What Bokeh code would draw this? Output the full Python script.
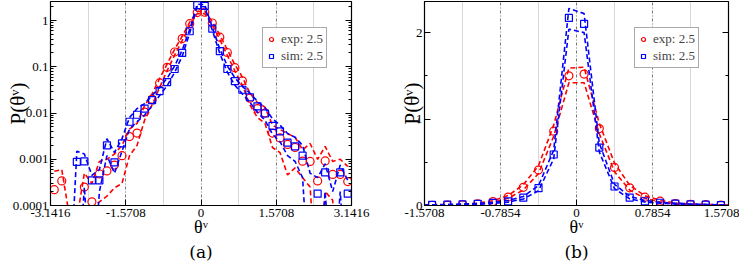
import math
import numpy as np
from bokeh.plotting import figure
from bokeh.layouts import row
from bokeh.models import (FixedTicker, CustomJSTickFormatter, LogAxis, LinearAxis,
                          Legend, LegendItem, Title, Range1d, ColumnDataSource)
from bokeh.embed import file_html
from bokeh.resources import INLINE

nan = float("nan")
PI = math.pi

# bin centres (rad), 40 bins of width pi/20
theta = [-3.0631, -2.9060, -2.7489, -2.5918, -2.4347, -2.2777, -2.1206, -1.9635,
         -1.8064, -1.6493, -1.4923, -1.3352, -1.1781, -1.0210, -0.8639, -0.7069,
         -0.5498, -0.3927, -0.2356, -0.0785, 0.0785, 0.2356, 0.3927, 0.5498,
         0.7069, 0.8639, 1.0210, 1.1781, 1.3352, 1.4923, 1.6493, 1.8064,
         1.9635, 2.1206, 2.2777, 2.4347, 2.5918, 2.7489, 2.9060, 3.0631]

exp_val = [2.2e-4, 3.4e-4, nan, nan, 2.5e-4, 1.2e-4, 4.8e-4, 5.6e-4, 7.5e-4, 1.2e-3,
           3.1e-3, 3.7e-3, 0.0105, 0.020, 0.045, 0.098, 0.21, 0.41, 0.86, 1.50,
           1.52, 0.89, 0.44, 0.205, 0.096, 0.050, 0.021, 0.0125, 0.0100, 3.7e-3,
           2.9e-3, 2.1e-3, 1.8e-3, 9.1e-4, 9.0e-4, 3.4e-4, 9.2e-4, 4.7e-4, 4.7e-4, 3.3e-4]
exp_hi = [5.5e-4, 6.0e-4, 6e-5, 5e-5, 5.0e-4, 3.0e-4, 9.0e-4, 1.0e-3, 1.3e-3, 2.0e-3,
          4.5e-3, 6.0e-3, 0.0145, 0.026, 0.056, 0.115, 0.24, 0.46, 0.93, 1.59,
          1.60, 0.95, 0.49, 0.235, 0.112, 0.060, 0.027, 0.017, 0.0135, 5.5e-3,
          4.4e-3, 3.6e-3, 3.0e-3, 1.6e-3, 2.2e-3, 1.0e-3, 1.9e-3, 9.0e-4, 1.0e-3, 7.0e-4]
exp_lo = [1e-6, 1e-6, 1e-6, 1e-6, 1e-6, 9e-5, 1.2e-4, 1.6e-4, 2.4e-4, 3.0e-4,
          1.2e-3, 2.0e-3, 7.0e-3, 0.015, 0.036, 0.083, 0.18, 0.37, 0.80, 1.42,
          1.42, 0.83, 0.39, 0.178, 0.082, 0.040, 0.015, 8.0e-3, 6.0e-3, 1.8e-3,
          1.4e-3, 4.6e-4, 6.5e-4, 4.0e-4, 2.5e-4, 1e-6, 2.0e-4, 1.3e-4, 1e-6, 1e-6]

sim_val = [nan, nan, nan, 8.8e-4, 9.0e-4, 3.5e-4, 3.5e-4, 2.0e-3, 8.6e-4, 2.2e-3,
           6.5e-3, 9.2e-3, 0.0125, 0.019, 0.030, 0.047, 0.090, 0.20, 0.59, 2.17,
           2.10, 0.67, 0.22, 0.09, 0.049, 0.032, 0.022, 0.014, 0.0098, 5.3e-3,
           4.0e-3, 2.3e-3, 1.9e-3, 1.2e-3, nan, 1.8e-4, 5.2e-4, nan, 5.2e-4, 1.8e-4]
sim_hi = [1e-6, 1e-6, 1e-6, 1.5e-3, 1.3e-3, 4.5e-4, 6.0e-4, 2.8e-3, 1.4e-3, 2.8e-3,
          8.0e-3, 0.0125, 0.016, 0.024, 0.036, 0.057, 0.105, 0.23, 0.64, 2.28,
          2.22, 0.72, 0.245, 0.105, 0.058, 0.038, 0.027, 0.018, 0.013, 7.5e-3,
          5.5e-3, 3.6e-3, 3.0e-3, 2.0e-3, 5.0e-4, 4.0e-4, 8.0e-4, 2.0e-4, 7.5e-4, 3.5e-4]
sim_lo = [1e-6, 1e-6, 1e-6, 1e-6, 2.5e-4, 1e-6, 2.0e-4, 1.2e-3, 5.0e-4, 1.5e-3,
          4.5e-3, 6.5e-3, 9.0e-3, 0.0145, 0.024, 0.039, 0.076, 0.17, 0.54, 2.04,
          2.00, 0.62, 0.195, 0.077, 0.040, 0.026, 0.017, 0.0105, 7.0e-3, 3.5e-3,
          2.4e-3, 1.2e-3, 9.0e-4, 4.0e-4, 1e-6, 1e-6, 2.0e-4, 1e-6, 2.0e-4, 1e-6]

legend_labels = ["exp: 2.5", "sim: 2.5"]
xticks_a = [-PI, -PI / 2, 0.0, PI / 2, PI]
xminor_a = [-3 * PI / 4, -PI / 4, PI / 4, 3 * PI / 4]
xticks_b = [-PI / 2, -PI / 4, 0.0, PI / 4, PI / 2]
xminor_b = [-3 * PI / 8, -PI / 8, PI / 8, 3 * PI / 8]
yticks_a = [1e-4, 1e-3, 1e-2, 1e-1, 1.0]
yminor_a = [m * d for d in [1e-4, 1e-3, 1e-2, 1e-1] for m in range(2, 10)] + [2.0]
yticks_b = [0.0, 1.0, 2.0]
yminor_b = [0.5, 1.5]

SERIF = "Liberation Serif"
RED = "#ff0000"
BLUE = "#0000ff"

src = ColumnDataSource(dict(
    theta=np.array(theta), exp_val=np.array(exp_val), exp_hi=np.array(exp_hi),
    exp_lo=np.array(exp_lo), sim_val=np.array(sim_val), sim_hi=np.array(sim_hi),
    sim_lo=np.array(sim_lo)))

xfmt_code = "return Math.abs(tick) < 1e-9 ? '0' : tick.toFixed(4);"


def style_axis(ax, labels=True):
    ax.major_tick_in = 6
    ax.major_tick_out = 0
    ax.minor_tick_in = 3
    ax.minor_tick_out = 0
    ax.axis_line_color = "black"
    ax.major_tick_line_color = "black"
    ax.minor_tick_line_color = "black"
    ax.major_label_text_font = SERIF
    ax.major_label_text_font_size = "13px"
    ax.major_label_text_color = "black"
    ax.major_label_standoff = 2
    ax.axis_label_text_font = SERIF
    ax.axis_label_text_font_style = "normal"
    ax.axis_label_text_font_size = "18px"
    ax.axis_label_text_color = "black"
    if not labels:
        ax.formatter = CustomJSTickFormatter(code="return '';")


def make_panel(xr, yr, ylog, width, bl, br, xt, xm, yt, ym, caption, ylab_standoff,
               leg_loc):
    p = figure(width=width, height=261, x_range=xr, y_range=yr,
               y_axis_type="log" if ylog else "linear",
               output_backend="svg", toolbar_location=None,
               min_border_left=bl, min_border_right=br, min_border_top=1,
               min_border_bottom=20)
    p.outline_line_color = "black"
    p.outline_line_width = 1.2
    p.background_fill_color = "white"
    p.border_fill_color = "white"

    # grid: vertical only
    p.ygrid.visible = False
    p.xgrid.ticker = FixedTicker(ticks=xt, minor_ticks=xm)
    p.xgrid.grid_line_color = "#777777"
    p.xgrid.grid_line_dash = "3 2 1 2"
    p.xgrid.grid_line_width = 1
    p.xgrid.minor_grid_line_color = "#b0b0b0"
    p.xgrid.minor_grid_line_dash = "1 1"
    p.xgrid.minor_grid_line_width = 1

    xa = p.xaxis[0]
    xa.ticker = FixedTicker(ticks=xt, minor_ticks=[])
    xa.formatter = CustomJSTickFormatter(code=xfmt_code)
    style_axis(xa)
    xa.major_label_standoff = 3
    xa.axis_label = "θᵛ"
    xa.axis_label_standoff = -3

    ya = p.yaxis[0]
    ya.ticker = FixedTicker(ticks=yt, minor_ticks=ym)
    ya.formatter = CustomJSTickFormatter(code="return String(tick);")
    style_axis(ya)
    ya.axis_label = "P(θᵛ)"
    ya.axis_label_text_font_size = "21px"
    ya.axis_label_standoff = ylab_standoff

    ra = LogAxis() if ylog else LinearAxis()
    ra.ticker = FixedTicker(ticks=yt, minor_ticks=ym)
    style_axis(ra, labels=False)
    p.add_layout(ra, "right")

    cap = Title(text=caption, align="center", standoff=0, text_font="DejaVu Serif",
                text_font_size="17px", text_font_style="normal", text_color="black")
    p.add_layout(cap, "below")

    # dashed bounds
    kw = dict(source=src, line_dash="5 3", line_width=1.6)
    p.line("theta", "exp_hi", line_color=RED, **kw)
    p.line("theta", "exp_lo", line_color=RED, **kw)
    r_exp = p.scatter("theta", "exp_val", source=src, marker="circle", size=8,
                      fill_color=None, line_color=RED, line_width=1.2)
    p.line("theta", "sim_hi", line_color=BLUE, **kw)
    p.line("theta", "sim_lo", line_color=BLUE, **kw)
    r_sim = p.scatter("theta", "sim_val", source=src, marker="square", size=7,
                      fill_color=None, line_color=BLUE, line_width=1.2)

    leg = Legend(items=[LegendItem(label=legend_labels[0], renderers=[r_exp]),
                        LegendItem(label=legend_labels[1], renderers=[r_sim])],
                 location=leg_loc, orientation="vertical")
    leg.label_text_font = SERIF
    leg.label_text_font_size = "13px"
    leg.glyph_width = 10
    leg.glyph_height = 12
    leg.label_height = 12
    leg.label_standoff = 5
    leg.spacing = 1
    leg.padding = 3
    leg.margin = 0
    leg.border_line_color = "#555555"
    leg.border_line_width = 1
    leg.background_fill_color = "white"
    leg.background_fill_alpha = 1
    p.add_layout(leg)
    return p


pa = make_panel(Range1d(-PI, PI), Range1d(1e-4, 2.6), True, 370, 50, 19,
                xticks_a, xminor_a, yticks_a, yminor_a, "(a)", -20, (212, 137))
pb = make_panel(Range1d(-PI / 2, PI / 2), Range1d(0.0, 2.36), False, 369, 54, 11,
                xticks_b, xminor_b, yticks_b, yminor_b, "(b)", -11, (210, 137))

layout = row(pa, pb)
open("out.html", "w").write(file_html(layout, INLINE))
